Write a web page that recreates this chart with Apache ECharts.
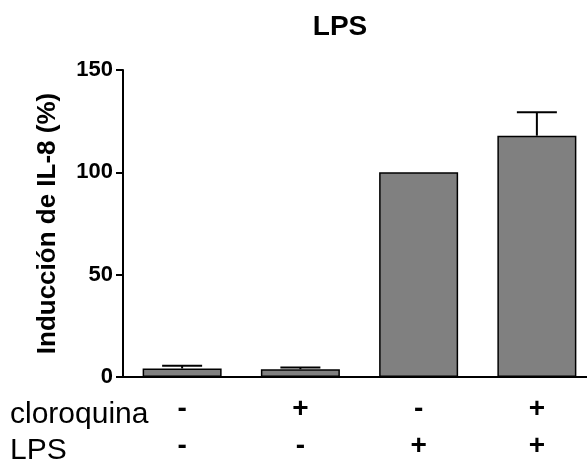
<!DOCTYPE html>
<html>
<head>
<meta charset="utf-8">
<script src="https://cdn.jsdelivr.net/npm/echarts@6/dist/echarts.min.js"></script>
<style>
  html, body { margin: 0; padding: 0; background: #fff; overflow: hidden; }
  #chart { width: 596px; height: 465px; }
</style>
</head>
<body>
<div id="chart"></div>
<script>
// condiciones: cloroquina / LPS
let cloroquina = ['-', '+', '-', '+'];
let lps = ['-', '-', '+', '+'];
let induccion = [4.2, 3.8, 100, 117.9];     // media
let errorTop = [5.5, 4.7, null, 129.4];     // media + error (sin error en el control)
let yTicks = [0, 50, 100, 150];

let cats = cloroquina.map((c, i) => c + '\n' + lps[i]);
let font = '"Liberation Sans", Arial, sans-serif';

let chart = echarts.init(document.getElementById('chart'));
chart.setOption({
    animation: false,
    title: {
        text: 'LPS',
        left: 335,
        top: 8,
        textAlign: 'center',
        textStyle: { fontFamily: font, fontWeight: 'bold', fontSize: 28, color: '#000' }
    },
    // el eje x sigue más allá del borde derecho, como en la figura original
    grid: { left: 123, right: 0, top: 70, bottom: 83.5 },
    xAxis: {
        type: 'category',
        data: cats,
        axisLine: { lineStyle: { color: '#000', width: 2 } },
        axisTick: { alignWithLabel: true, length: 9, lineStyle: { color: '#000', width: 2 } },
        axisLabel: {
            margin: 14,
            color: '#000',
            fontFamily: font,
            fontWeight: 'bold',
            fontSize: 28,
            lineHeight: 37
        }
    },
    yAxis: {
        type: 'value',
        min: yTicks[0],
        max: yTicks[yTicks.length - 1],
        interval: 50,
        name: 'Inducción de IL-8 (%)',
        nameLocation: 'middle',
        nameGap: 62,
        nameTextStyle: { fontFamily: font, fontWeight: 'bold', fontSize: 26, color: '#000' },
        splitLine: { show: false },
        axisLine: { show: true, lineStyle: { color: '#000', width: 2 } },
        axisTick: { show: true, length: 7, lineStyle: { color: '#000', width: 2 } },
        axisLabel: { margin: 10, color: '#000', fontFamily: font, fontWeight: 'bold', fontSize: 22 }
    },
    graphic: [
        { type: 'text', x: 10, y: 415, style: { text: 'cloroquina', font: '30px ' + font, fill: '#000', verticalAlign: 'middle' } },
        { type: 'text', x: 10, y: 451, style: { text: 'LPS', font: '30px ' + font, fill: '#000', verticalAlign: 'middle' } }
    ],
    series: [
        {
            type: 'bar',
            data: induccion,
            barWidth: 79,
            itemStyle: { color: '#808080', borderColor: '#000', borderWidth: 1.5 },
            z: 2
        },
        {
            type: 'custom',
            data: errorTop.map((e, i) => [i, induccion[i], e]),
            z: 3,
            renderItem: function (params, api) {
                if (errorTop[params.dataIndex] == null) return;
                let base = api.coord([api.value(0), api.value(1)]);
                let top = api.coord([api.value(0), api.value(2)]);
                let half = 20;
                let style = { stroke: '#000', lineWidth: 2 };
                return {
                    type: 'group',
                    children: [
                        { type: 'line', shape: { x1: base[0], y1: base[1], x2: top[0], y2: top[1] }, style: style },
                        { type: 'line', shape: { x1: top[0] - half, y1: top[1], x2: top[0] + half, y2: top[1] }, style: style }
                    ]
                };
            }
        }
    ]
});
</script>
</body>
</html>
